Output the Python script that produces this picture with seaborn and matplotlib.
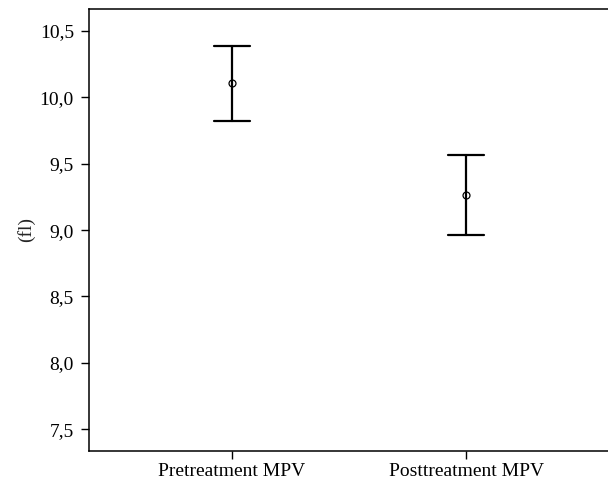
import matplotlib
matplotlib.use("Agg")
import matplotlib.pyplot as plt
import seaborn as sns
import pandas as pd
from matplotlib.ticker import FuncFormatter

categories = ["Pretreatment MPV", "Posttreatment MPV"]
means = [10.106, 9.268]
lower = [9.823, 8.962]
upper = [10.389, 9.565]
y_ticks = [7.5, 8.0, 8.5, 9.0, 9.5, 10.0, 10.5]
y_label = "(fl)"

rows = []
for c, lo, m, hi in zip(categories, lower, means, upper):
    for v in (lo, m, hi):
        rows.append({"group": c, "value": v})
df = pd.DataFrame(rows)

sns.set_style("ticks")
plt.rcParams["font.family"] = ["Liberation Serif", "DejaVu Serif"]

fig = plt.figure(figsize=(6.08, 4.82), dpi=100)
ax = fig.add_axes([88.5 / 608, (482 - 451) / 482, 1 - 88.5 / 608, (451 - 9) / 482])

sns.pointplot(
    data=df, x="group", y="value", order=categories,
    estimator="median", errorbar=lambda v: (v.min(), v.max()),
    color="black", markers="o", linestyles="none", capsize=0.156,
    err_kws={"linewidth": 1.6, "color": "black"},
    markerfacecolor="none", markeredgecolor="black", markersize=5,
    markeredgewidth=0.9, ax=ax,
)

ax.set_xlim(-0.613, 1.606)
ax.set_ylim(7.336, 10.666)
ax.set_yticks(y_ticks)
ax.yaxis.set_major_formatter(FuncFormatter(lambda v, p: f"{v:.1f}".replace(".", ",")))
ax.set_xlabel("")
ax.set_ylabel(y_label, fontsize=14, labelpad=3)
ax.tick_params(axis="both", labelsize=14, direction="out", length=5.5, width=1, color="black", labelcolor="black")
ax.tick_params(axis="y", pad=5)
ax.tick_params(axis="x", pad=3)
for s in ["left", "bottom", "top"]:
    ax.spines[s].set_visible(True)
    ax.spines[s].set_linewidth(1.1)
    ax.spines[s].set_color("black")
ax.spines["right"].set_visible(False)

fig.savefig("out.png", dpi=100)
